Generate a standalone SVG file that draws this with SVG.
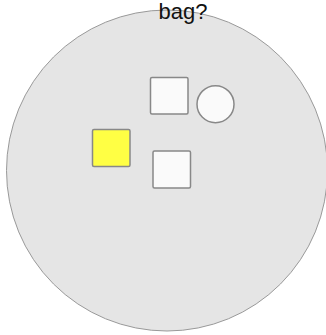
<svg xmlns="http://www.w3.org/2000/svg" width="326" height="335" viewBox="0 0 326 335">
<style>
.box{fill:#fafafa;stroke:#888888;stroke-width:1.5}
.lbl{font-family:"Liberation Sans",Arial,sans-serif;font-size:22px;fill:#111}
</style>
<g id="bag">
<circle cx="167" cy="170.5" r="160.5" fill="#e5e5e5" stroke="#999999" stroke-width="1"/>
</g>
<g id="square1"><rect class="box" x="150.5" y="77.5" width="37.5" height="36.5" rx="1.5"/></g>
<g id="circle1"><circle class="box" cx="215.5" cy="104.2" r="18.5"/></g>
<g id="yellow"><rect class="box" x="92.5" y="129.5" width="37.5" height="37" rx="1.5" style="fill:#ffff44"/></g>
<g id="square2"><rect class="box" x="153" y="151" width="37.5" height="37" rx="1.5"/></g>
<g id="connectors"></g>
<text class="lbl" x="183" y="18.5" text-anchor="middle">bag?</text>
</svg>
